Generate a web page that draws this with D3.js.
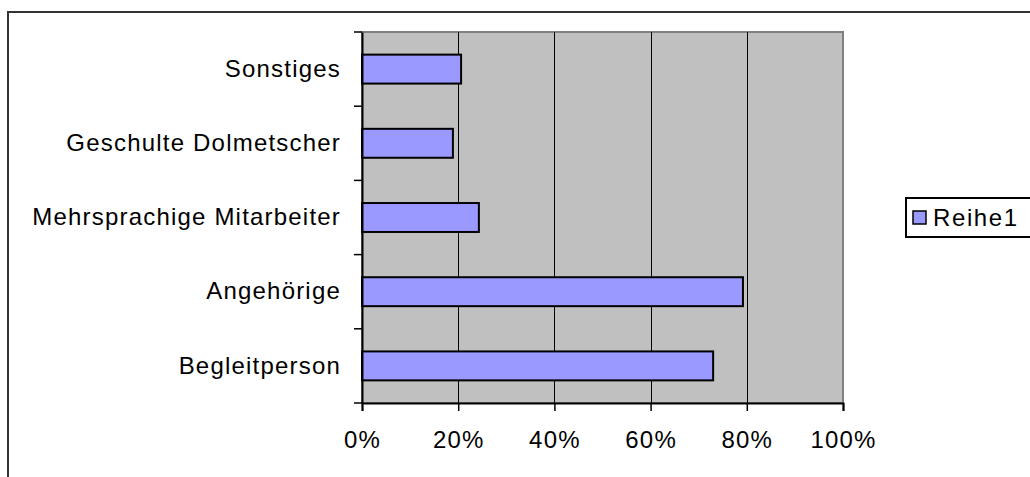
<!DOCTYPE html>
<html><head><meta charset="utf-8">
<script src="https://cdn.jsdelivr.net/npm/d3@7"></script>
<style>body{margin:0;background:#fff}svg{display:block}text{font-family:"Liberation Sans",Arial,sans-serif;fill:#000}</style>
</head><body><svg id="c" width="1030" height="477"></svg>
<script>
const categories = ["Sonstiges","Geschulte Dolmetscher","Mehrsprachige Mitarbeiter","Angehörige","Begleitperson"];
const values = [0.206, 0.189, 0.243, 0.792, 0.730];
const tickValues = [0,0.2,0.4,0.6,0.8,1.0];
const seriesName = "Reihe1";

const svg = d3.select("#c");
const m = {left:362, top:32, right:843, bottom:403};
const FS = "24px", LS = "1.2px";
svg.append("rect").attr("x",8).attr("y",12).attr("width",1040).attr("height",480).attr("fill","#fff").attr("stroke","#333").attr("stroke-width",2);

const x = d3.scaleLinear().domain([0,1]).range([m.left,m.right]);
const y = d3.scaleBand().domain(categories).range([m.top,m.bottom]).paddingInner(0.61).paddingOuter(0.305);
const yb = d3.scaleBand().domain(categories).range([m.top,m.bottom]);

svg.append("rect").attr("x",m.left).attr("y",m.top).attr("width",m.right-m.left).attr("height",m.bottom-m.top).attr("fill","#c0c0c0").attr("stroke","#808080").attr("stroke-width",2);

svg.append("g").selectAll("line").data(tickValues.slice(1,-1)).join("line")
 .attr("x1",d=>Math.round(x(d))+0.5).attr("x2",d=>Math.round(x(d))+0.5).attr("y1",m.top).attr("y2",m.bottom).attr("stroke","#000").attr("stroke-width",1);

svg.append("g").selectAll("rect").data(categories).join("rect")
 .attr("x",m.left).attr("y",d=>y(d)).attr("width",(d,i)=>x(values[i])-m.left).attr("height",y.bandwidth())
 .attr("fill","#9999ff").attr("stroke","#000").attr("stroke-width",2);

const xa = d3.axisBottom(x).tickValues(tickValues).tickFormat(d3.format(".0%")).tickSize(8).tickPadding(20);
const gx = svg.append("g").attr("transform",`translate(0,${m.bottom})`).call(xa);
gx.select(".domain").attr("stroke","#000").attr("stroke-width",2);
gx.selectAll(".tick line").attr("stroke","#000").attr("stroke-width",1.5);
gx.selectAll("text").style("font-size",FS).style("letter-spacing",LS).attr("fill","#000");

const ya = d3.axisLeft(yb).tickSize(0).tickPadding(21);
const gy = svg.append("g").attr("transform",`translate(${m.left},0)`).call(ya);
gy.select(".domain").attr("stroke","#000").attr("stroke-width",2);
gy.selectAll("text").style("font-size",FS).style("letter-spacing",LS).attr("fill","#000");
const bounds = d3.range(categories.length+1).map(i=>m.top+i*yb.step());
svg.append("g").selectAll("line").data(bounds).join("line")
 .attr("x1",m.left-8).attr("x2",m.left).attr("y1",d=>d).attr("y2",d=>d).attr("stroke","#000").attr("stroke-width",1.5);

const lg = svg.append("g");
lg.append("rect").attr("x",906).attr("y",198).attr("width",140).attr("height",39).attr("fill","#fff").attr("stroke","#000").attr("stroke-width",2);
lg.append("rect").attr("x",913).attr("y",211).attr("width",13).attr("height",13).attr("fill","#9999ff").attr("stroke","#000").attr("stroke-width",1.5);
lg.append("text").attr("x",933).attr("y",218).attr("dy","0.35em").style("font-size",FS).style("letter-spacing","1.6px").text(seriesName);
</script></body></html>
